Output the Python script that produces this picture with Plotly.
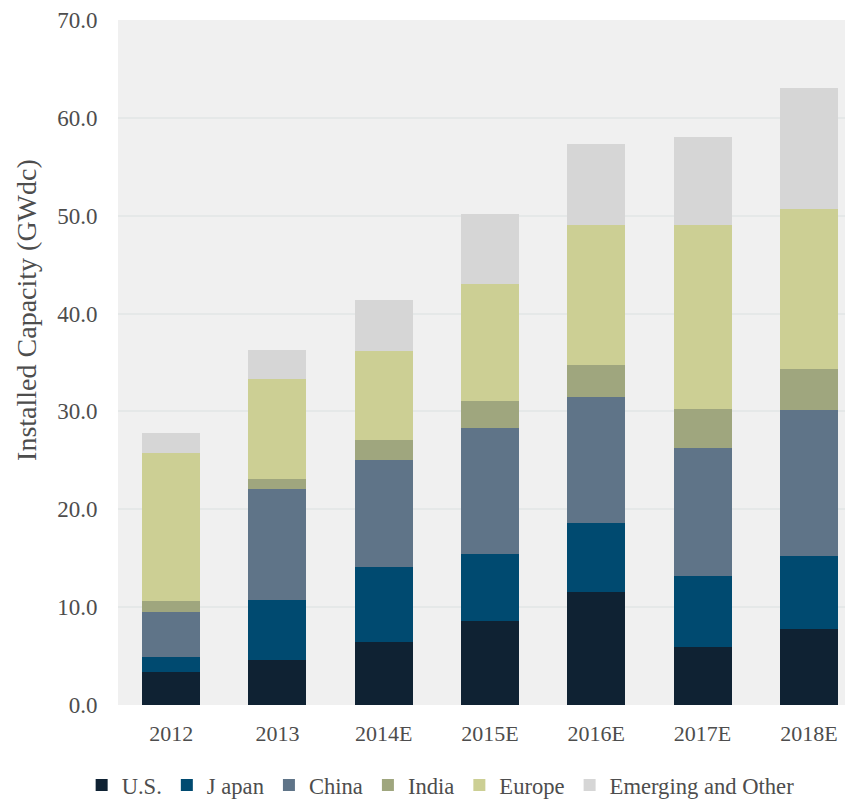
import plotly.graph_objects as go

years = ["2012", "2013", "2014E", "2015E", "2016E", "2017E", "2018E"]
us = [3.4, 4.6, 6.4, 8.6, 11.5, 5.9, 7.8]
japan = [1.5, 6.1, 7.7, 6.8, 7.1, 7.3, 7.4]
china = [4.6, 11.4, 10.9, 12.9, 12.9, 13.1, 14.9]
india = [1.1, 1.0, 2.1, 2.8, 3.2, 3.9, 4.2]
europe = [15.2, 10.2, 9.1, 11.9, 14.4, 18.9, 16.4]
other = [2.0, 3.0, 5.2, 7.2, 8.2, 8.9, 12.4]

series = [
    ("U.S.", us, "#0f2233"),
    ("J apan", japan, "#004a70"),
    ("China", china, "#5f7488"),
    ("India", india, "#9fa67e"),
    ("Europe", europe, "#cccf94"),
    ("Emerging and Other", other, "#d6d6d6"),
]

FONT = "Liberation Serif"
GREY = "#4d4d4d"

fig = go.Figure()
for name, vals, col in series:
    fig.add_trace(go.Bar(x=years, y=vals, name=name, marker_color=col,
                         marker_line_width=0))

fig.update_layout(
    width=845, height=802,
    barmode="stack", bargap=0.455,
    paper_bgcolor="white", plot_bgcolor="#f0f0f0",
    margin=dict(l=118, r=0, t=20, b=97, autoexpand=False),
    font=dict(family=FONT, color=GREY, size=21),
    xaxis=dict(range=[-0.5, 6.34], showgrid=False, zeroline=False,
               ticks="outside", ticklen=9, tickcolor="rgba(0,0,0,0)",
               tickfont=dict(size=22, color=GREY)),
    yaxis=dict(range=[0, 70], dtick=10, tickformat=".1f", showgrid=True,
               gridcolor="#e5e8e8", gridwidth=2, zeroline=False,
               ticks="outside", ticklen=15, tickcolor="rgba(0,0,0,0)",
               tickfont=dict(size=23, color=GREY)),
    annotations=[dict(text="Installed Capacity (GWdc)", textangle=-90,
                      xref="paper", yref="paper", x=-0.125, y=0.577,
                      xanchor="center", yanchor="middle", showarrow=False,
                      font=dict(size=28, color=GREY, family=FONT))],
    legend=dict(orientation="h", x=-0.05, xanchor="left", y=-0.086,
                yanchor="top", traceorder="normal",
                font=dict(size=22.6, color=GREY), itemwidth=30),
    showlegend=True,
)

fig.write_html("out.html")
